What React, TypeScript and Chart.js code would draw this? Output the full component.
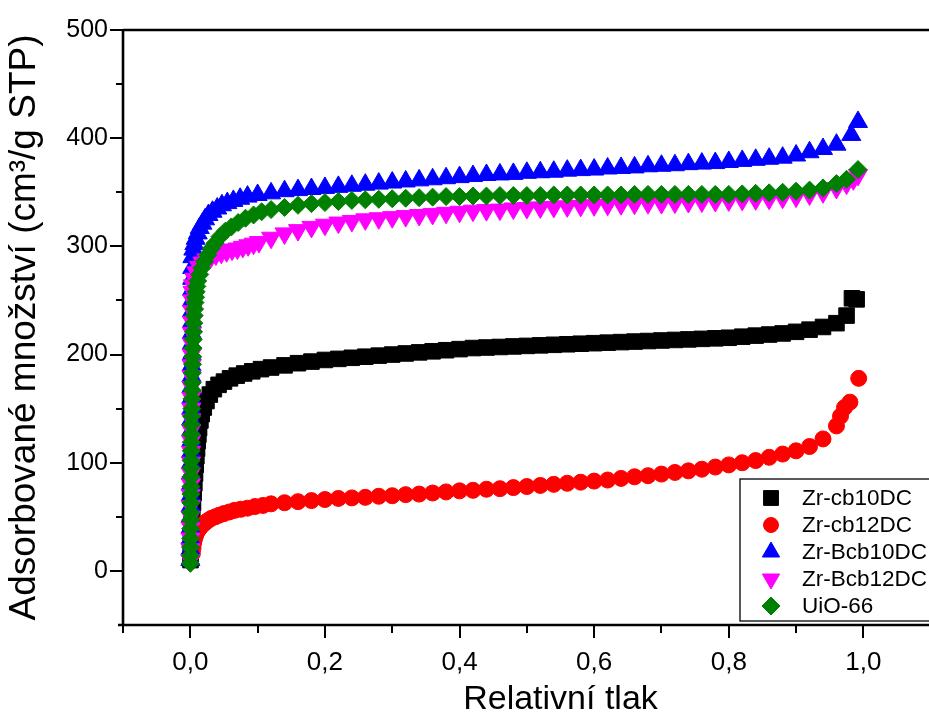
import React, { useEffect, useRef } from 'react';
import { Chart, registerables } from 'chart.js';
import { drawPoint } from 'chart.js/helpers';

Chart.register(...registerables);

// ---------- data ----------
const SERIES_NAMES = ['Zr-cb10DC', 'Zr-cb12DC', 'Zr-Bcb10DC', 'Zr-Bcb12DC', 'UiO-66'];
const SERIES_COLORS = ['#000000', '#ff0000', '#0000ff', '#ff00ff', '#008000'];

const X_TICKS = [0, 0.2, 0.4, 0.6, 0.8, 1.0];
const Y_TICKS = [0, 100, 200, 300, 400, 500];
const X_MINOR = [-0.1, 0.1, 0.3, 0.5, 0.7, 0.9, 1.1];
const Y_MINOR = [50, 150, 250, 350, 450];

// shared relative-pressure grid of the middle part of the isotherms
const pMid = [0.12, 0.14, 0.16, 0.18, 0.20, 0.22, 0.24, 0.26, 0.28, 0.30, 0.32, 0.34, 0.36, 0.38, 0.40,
  0.42, 0.44, 0.46, 0.48, 0.50, 0.52, 0.54, 0.56, 0.58, 0.60, 0.62, 0.64, 0.66, 0.68, 0.70,
  0.72, 0.74, 0.76, 0.78, 0.80, 0.82, 0.84, 0.86, 0.88, 0.90, 0.92, 0.94, 0.96];

// Zr-cb10DC (black squares)
const cb10LowP = [0.0003, 0.0006, 0.001, 0.0015, 0.002, 0.003, 0.004, 0.005, 0.006, 0.007, 0.008, 0.009, 0.010, 0.011,
  0.012, 0.013, 0.015, 0.017, 0.020, 0.024, 0.029, 0.035, 0.042, 0.050, 0.059, 0.069, 0.080, 0.092, 0.105];
const cb10LowV = [10, 18, 27, 36, 45, 54, 63, 72, 81, 90, 98, 106, 113, 120,
  126, 132, 139, 145, 151, 157, 163, 168, 172, 175, 178, 180.5, 182.5, 184.5, 186.5];
const cb10MidV = [188, 190, 192, 193.5, 195, 196, 197, 198, 199, 200, 201, 202, 203, 204, 205,
  206, 206.5, 207, 207.5, 208, 208.5, 209, 209.5, 210, 210.5, 211, 211.5, 212, 212.5, 213,
  213.5, 214, 214.5, 215, 215.5, 216.5, 217.5, 218.5, 219.5, 221, 223, 225.5, 229];
const cb10TailP = [0.975, 0.983, 0.99];
const cb10TailV = [236, 252, 251];

// Zr-cb12DC (red circles)
const cb12LowP = [0.003, 0.004, 0.005, 0.0065, 0.008, 0.010, 0.0125, 0.015, 0.018, 0.022, 0.026, 0.031,
  0.037, 0.043, 0.050, 0.058, 0.066, 0.075, 0.085, 0.096, 0.108];
const cb12LowV = [16, 21, 26, 30, 33, 36, 38.5, 40.5, 42.5, 44.5, 46.5, 48.5,
  50, 51.5, 53, 54.5, 56, 57, 58, 59.5, 60.5];
const cb12MidV = [62, 63, 64, 65, 66, 67, 67.5, 68, 69, 69.5, 70.5, 71, 72, 73, 74,
  74.5, 75.5, 76, 77, 78, 79, 80, 81, 82, 83, 84, 85.5, 87, 88, 89.5,
  91, 92.5, 94, 96, 98, 100, 102, 105, 108, 111, 115, 122, 134];
const cb12TailP = [0.966, 0.972, 0.98, 0.993];
const cb12TailV = [143, 151, 156, 178];

// Zr-Bcb10DC (blue triangles)
const bcb10LowP = [0.0001, 0.0002, 0.0003, 0.0004, 0.0005, 0.0006, 0.0007, 0.0008, 0.0009, 0.001, 0.0011, 0.0012,
  0.0013, 0.0014, 0.0015, 0.0016, 0.0017, 0.0018, 0.0019, 0.002, 0.0021, 0.0022, 0.0023, 0.0024, 0.0025, 0.0026,
  0.0027, 0.0028, 0.003, 0.0045, 0.006, 0.008, 0.011, 0.014, 0.018, 0.022, 0.027, 0.033, 0.040, 0.047, 0.055,
  0.064, 0.074, 0.085, 0.100];
const bcb10LowV = [10, 20, 30, 40, 50, 60, 70, 80, 90, 100, 110, 120,
  130, 140, 150, 160, 170, 180, 190, 200, 210, 220, 230, 240, 250, 260,
  270, 280, 290, 297, 302, 307, 312, 317, 321, 325, 329, 332, 335, 338, 340,
  342, 344, 346, 347.5];
const bcb10MidV = [349, 351, 352, 353, 354, 355, 356, 357, 358, 359, 360, 361, 362, 363, 364,
  365, 366, 366.5, 367, 368, 368.5, 369, 370, 370.5, 371, 372, 372.5, 373, 374, 374.5,
  375, 376, 376.5, 377, 378, 379, 380, 381, 382, 384, 387, 390, 394];
const bcb10TailP = [0.982, 0.992];
const bcb10TailV = [403, 415];

// Zr-Bcb12DC (magenta inverted triangles)
const bcb12LowP = [0.0001, 0.0002, 0.0003, 0.0004, 0.0005, 0.0006, 0.0007, 0.0008, 0.0009, 0.001, 0.0011, 0.0012,
  0.0013, 0.0014, 0.0015, 0.0016, 0.0017, 0.0018, 0.0019, 0.002, 0.0022, 0.0024, 0.0026, 0.0028, 0.003, 0.0033,
  0.004, 0.006, 0.009, 0.013, 0.018, 0.024, 0.031, 0.038, 0.046, 0.054, 0.062, 0.070, 0.078, 0.086, 0.094, 0.102];
const bcb12LowV = [10, 20, 30, 40, 50, 60, 70, 80, 90, 100, 110, 120,
  130, 140, 150, 160, 170, 180, 190, 200, 210, 220, 230, 240, 250, 258,
  264, 270, 276, 281, 285, 288, 290.5, 292.5, 294, 295.5, 297, 298, 299.5, 301, 302.5, 304];
const bcb12MidV = [308, 312, 315, 318, 320, 322, 323.5, 325, 326, 327, 328, 329, 330, 331, 332,
  333, 333.5, 334, 335, 335.5, 336, 336.5, 337, 337.5, 338, 338.5, 339, 339.5, 340, 340,
  340.5, 341, 341.5, 342, 342.5, 343, 343.5, 344, 345, 346, 348, 350, 354];
const bcb12TailP = [0.975, 0.985, 0.992];
const bcb12TailV = [358, 362, 366];

// UiO-66 (green diamonds)
const uioLowP = [0.0001, 0.0002, 0.0003, 0.0004, 0.0005, 0.0006, 0.0007, 0.0008, 0.0009, 0.001, 0.0011, 0.0012,
  0.0013, 0.0014, 0.0015, 0.0016, 0.0018, 0.002, 0.0022, 0.0024, 0.0026, 0.0028, 0.003, 0.0033, 0.0036, 0.004,
  0.0044, 0.0048, 0.0053, 0.0058, 0.0064, 0.007, 0.0078, 0.0087, 0.0097, 0.011, 0.014, 0.017, 0.021, 0.026, 0.031,
  0.037, 0.044, 0.052, 0.061, 0.071, 0.082, 0.094, 0.106];
const uioLowV = [7, 14, 22, 30, 39, 47, 54, 63, 71, 78, 87, 95,
  102, 111, 119, 126, 135, 143, 150, 159, 167, 174, 183, 191, 198, 206,
  214, 221, 229, 236, 242, 248, 253, 258, 263, 268, 274, 280, 286, 292, 298,
  303, 309, 314, 318, 322, 326, 329, 332];
const uioMidV = [334, 336, 338, 339.5, 340.5, 341.5, 342.5, 343, 343.5, 344, 344.5, 345, 345.5, 346, 346,
  346.5, 346.5, 347, 347, 347, 347, 347.5, 347.5, 347.5, 347.5, 347.5, 347.5, 348, 348, 348,
  348, 348, 348, 348, 348, 348.5, 349, 349.5, 350, 351, 352, 354, 358];
const uioTailP = [0.975, 0.992];
const uioTailV = [362, 371];

// ---------- helpers ----------
function toPoints(ps: number[], vs: number[]) {
  return ps.map((p, i) => ({ x: p, y: vs[i] }));
}
function series(lowP: number[], lowV: number[], midV: number[], tailP: number[], tailV: number[]) {
  return [...toPoints(lowP, lowV), ...toPoints(pMid, midV), ...toPoints(tailP, tailV)];
}

const MARKERS = [
  { pointStyle: 'rect', radius: 11, rotation: 0 },
  { pointStyle: 'circle', radius: 8, rotation: 0 },
  { pointStyle: 'triangle', radius: 11, rotation: 0 },
  { pointStyle: 'triangle', radius: 11, rotation: 180 },
  { pointStyle: 'rectRot', radius: 9, rotation: 0 },
];
const LEGEND_MARKERS = [
  { pointStyle: 'rect', radius: 10.5, rotation: 0 },
  { pointStyle: 'circle', radius: 7.5, rotation: 0 },
  { pointStyle: 'triangle', radius: 10, rotation: 0 },
  { pointStyle: 'triangle', radius: 10, rotation: 180 },
  { pointStyle: 'rectRot', radius: 9, rotation: 0 },
];

const FONT = "'Liberation Sans', Arial, sans-serif";

const framePlugin = {
  id: 'originFrame',
  afterDraw(chart: any) {
    const ctx = chart.ctx;
    const a = chart.chartArea;
    const xs = chart.scales.x;
    const ys = chart.scales.y;
    ctx.save();
    ctx.strokeStyle = '#000';
    ctx.lineCap = 'butt';
    // ticks
    ctx.lineWidth = 2;
    ctx.beginPath();
    X_TICKS.forEach((v) => {
      const px = Math.round(xs.getPixelForValue(v));
      ctx.moveTo(px, a.bottom);
      ctx.lineTo(px, a.bottom + 13);
    });
    X_MINOR.forEach((v) => {
      const px = Math.round(xs.getPixelForValue(v));
      ctx.moveTo(px, a.bottom);
      ctx.lineTo(px, a.bottom + 8);
    });
    Y_TICKS.forEach((v) => {
      const py = Math.round(ys.getPixelForValue(v));
      ctx.moveTo(a.left, py);
      ctx.lineTo(a.left - 13, py);
    });
    Y_MINOR.forEach((v) => {
      const py = Math.round(ys.getPixelForValue(v));
      ctx.moveTo(a.left, py);
      ctx.lineTo(a.left - 7, py);
    });
    ctx.stroke();
    // frame
    ctx.lineWidth = 2.6;
    ctx.beginPath();
    ctx.moveTo(a.left - 5, a.bottom);
    ctx.lineTo(a.right, a.bottom);
    ctx.moveTo(a.left, a.bottom + 1);
    ctx.lineTo(a.left, a.top);
    ctx.moveTo(a.left, a.top);
    ctx.lineTo(a.right, a.top);
    ctx.lineTo(a.right, a.bottom);
    ctx.stroke();

    // legend box
    const left = a.left + 617;
    const top = a.top + 449;
    const h = 142;
    ctx.lineWidth = 1.3;
    ctx.strokeRect(left, top, 400, h);
    ctx.font = `22.5px ${FONT}`;
    ctx.textBaseline = 'middle';
    ctx.textAlign = 'left';
    SERIES_NAMES.forEach((name, i) => {
      const y = top + 19 + i * 27;
      ctx.fillStyle = SERIES_COLORS[i];
      ctx.strokeStyle = SERIES_COLORS[i];
      ctx.lineWidth = 1;
      drawPoint(ctx, { ...LEGEND_MARKERS[i], borderWidth: 1 } as any, left + 31, y);
      ctx.fillStyle = '#000';
      ctx.fillText(name, left + 62, y + 1);
    });
    ctx.restore();
  },
};

export default function App() {
  const ref = useRef<HTMLCanvasElement | null>(null);
  useEffect(() => {
    const el = ref.current;
    if (!el) return;
    const datasets = [
      series(cb10LowP, cb10LowV, cb10MidV, cb10TailP, cb10TailV),
      series(cb12LowP, cb12LowV, cb12MidV, cb12TailP, cb12TailV),
      series(bcb10LowP, bcb10LowV, bcb10MidV, bcb10TailP, bcb10TailV),
      series(bcb12LowP, bcb12LowV, bcb12MidV, bcb12TailP, bcb12TailV),
      series(uioLowP, uioLowV, uioMidV, uioTailP, uioTailV),
    ].map((data, i) => ({
      label: SERIES_NAMES[i],
      data,
      showLine: false,
      backgroundColor: SERIES_COLORS[i],
      borderColor: SERIES_COLORS[i],
      borderWidth: 1,
      pointStyle: MARKERS[i].pointStyle as any,
      pointRadius: MARKERS[i].radius,
      pointRotation: MARKERS[i].rotation,
      pointHoverRadius: MARKERS[i].radius,
      order: 5 - i,
    }));

    const chart = new Chart(el, {
      type: 'scatter',
      data: { datasets },
      options: {
        animation: false,
        responsive: false,
        devicePixelRatio: 1,
        layout: { padding: { top: 26, right: 7, left: 0, bottom: 0 } },
        plugins: { legend: { display: false }, tooltip: { enabled: false } },
        scales: {
          x: {
            type: 'linear',
            min: -0.1,
            max: 1.2,
            afterFit: (s: any) => { s.height = 90; },
            afterBuildTicks: (s: any) => { s.ticks = X_TICKS.map((v) => ({ value: v })); },
            grid: { display: false, drawTicks: false },
            border: { display: false },
            ticks: {
              padding: 22,
              color: '#000',
              font: { family: FONT, size: 26 },
              maxRotation: 0,
              autoSkip: false,
              callback: (v: any) => Number(v).toFixed(1).replace('.', ','),
            },
            title: {
              display: true,
              text: 'Relativní tlak',
              color: '#000',
              font: { family: FONT, size: 34 },
              padding: { top: 0, bottom: -5 },
            },
          },
          y: {
            type: 'linear',
            min: -50,
            max: 500,
            afterFit: (s: any) => { s.width = 123; },
            afterBuildTicks: (s: any) => { s.ticks = Y_TICKS.map((v) => ({ value: v })); },
            grid: { display: false, drawTicks: false },
            border: { display: false },
            ticks: {
              padding: 15,
              color: '#000',
              font: { family: FONT, size: 25 },
              callback: (v: any) => String(v),
            },
            title: {
              display: true,
              text: 'Adsorbované množství (cm³/g STP)',
              color: '#000',
              font: { family: FONT, size: 37 },
              padding: { top: 3, bottom: 0 },
            },
          },
        },
      },
      plugins: [framePlugin],
    });
    return () => chart.destroy();
  }, []);

  return (
    <div style={{ position: 'absolute', left: 0, top: 0, width: 929, height: 715, overflow: 'hidden', background: '#fff' }}>
      <canvas ref={ref} width={1010} height={715} style={{ display: 'block' }} />
    </div>
  );
}
